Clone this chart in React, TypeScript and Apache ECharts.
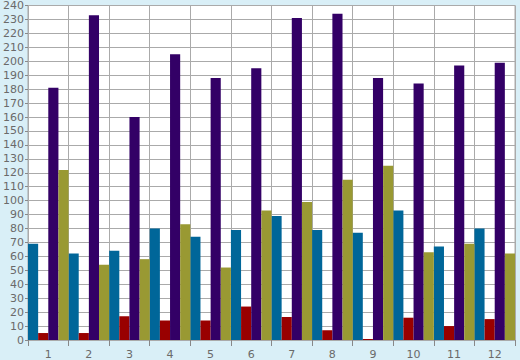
import React, { useEffect, useRef } from "react";
import * as echarts from "echarts";

const categories = ["1", "2", "3", "4", "5", "6", "7", "8", "9", "10", "11", "12"];
const blueValues = [69, 62, 64, 80, 74, 79, 89, 79, 77, 93, 67, 80];
const redValues = [5, 5, 17, 14, 14, 24, 16.5, 7, 0.7, 16, 10, 15];
const purpleValues = [181, 233, 160, 205, 188, 195, 231, 234, 188, 184, 197, 199];
const oliveValues = [122, 54, 58, 83, 52, 93, 99, 115, 125, 63, 69, 62];

const seriesDefs = [
  { name: "A", data: blueValues, color: "#006699" },
  { name: "B", data: redValues, color: "#990000" },
  { name: "C", data: purpleValues, color: "#330066" },
  { name: "D", data: oliveValues, color: "#999933" },
];

export default function App() {
  const ref = useRef<HTMLDivElement>(null);
  useEffect(() => {
    if (!ref.current) return;
    const chart = echarts.init(ref.current, null, { renderer: "svg" });
    chart.setOption({
      animation: false,
      backgroundColor: "#d9eff7",
      grid: {
        left: 26,
        right: 5,
        top: 5,
        bottom: 20,
        show: true,
        backgroundColor: "#ffffff",
        borderColor: "#aaaaaa",
        borderWidth: 1,
      },
      xAxis: {
        type: "category",
        data: categories,
        boundaryGap: true,
        axisLine: { show: true, lineStyle: { color: "#aaaaaa", width: 1 } },
        axisTick: { show: true, length: 6, lineStyle: { color: "#888888" } },
        axisLabel: {
          color: "#6a6a6a",
          fontFamily: "DejaVu Sans",
          fontSize: 11,
          margin: 9,
        },
        splitLine: { show: true, lineStyle: { color: "#aaaaaa", width: 1 } },
      },
      yAxis: {
        type: "value",
        min: 0,
        max: 240,
        interval: 10,
        axisLine: { show: true, lineStyle: { color: "#aaaaaa", width: 1 } },
        axisTick: { show: true, length: 3, lineStyle: { color: "#888888" } },
        axisLabel: {
          color: "#6a6a6a",
          fontFamily: "DejaVu Sans",
          fontSize: 11,
          margin: 4,
        },
        splitLine: { show: true, lineStyle: { color: "#aaaaaa", width: 1 } },
      },
      series: seriesDefs.map((s) => ({
        name: s.name,
        type: "bar",
        data: s.data,
        barGap: "0%",
        barCategoryGap: "0%",
        itemStyle: { color: s.color },
      })),
    });
    return () => chart.dispose();
  }, []);
  return (
    <div
      ref={ref}
      style={{ position: "fixed", left: 0, top: 0, width: 520, height: 360 }}
    />
  );
}
